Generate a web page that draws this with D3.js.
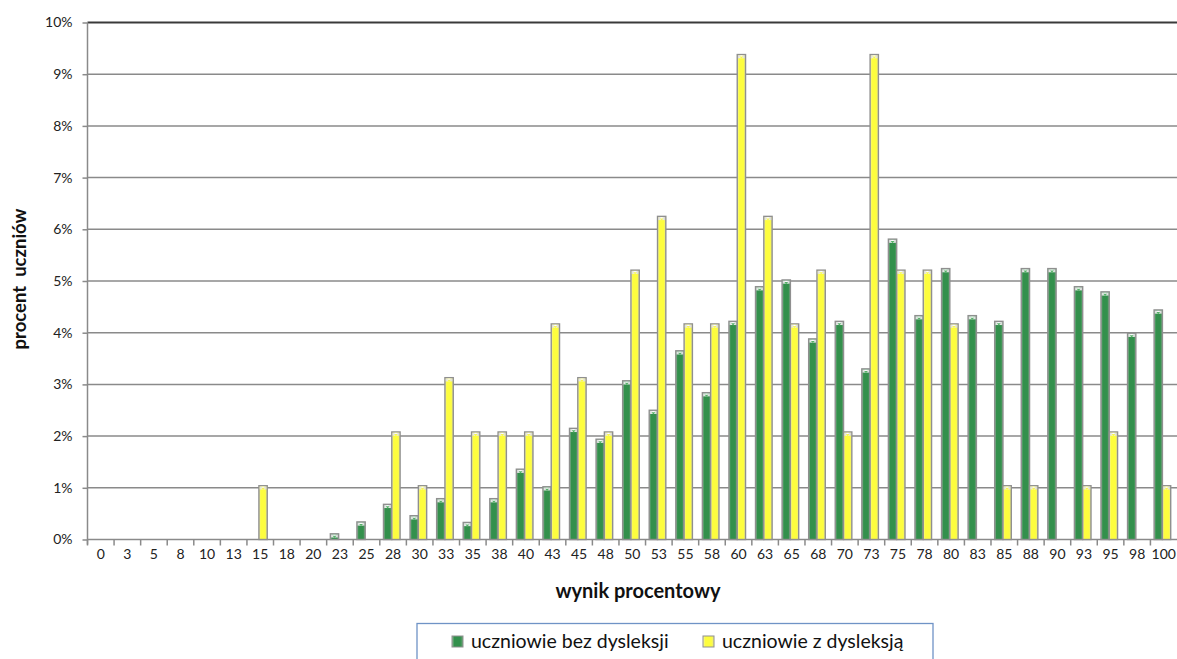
<!DOCTYPE html>
<html>
<head>
<meta charset="utf-8">
<script src="https://cdn.jsdelivr.net/npm/d3@7"></script>
<style>
  html, body { margin: 0; padding: 0; background: #fff; }
  svg { display: block; font-family: Lato, "Noto Sans", sans-serif; }
</style>
</head>
<body>
<svg id="chart" width="1177" height="659"></svg>
<script>
const categories = ["0","3","5","8","10","13","15","18","20","23","25","28","30","33","35","38","40","43","45","48","50","53","55","58","60","63","65","68","70","73","75","78","80","83","85","88","90","93","95","98","100"];
const bezDysleksji = [0,0,0,0,0,0,0,0,0,0.11,0.34,0.68,0.46,0.79,0.33,0.79,1.36,1.02,2.15,1.94,3.07,2.5,3.65,2.84,4.22,4.89,5.02,3.88,4.22,3.3,5.81,4.33,5.24,4.33,4.22,5.24,5.24,4.89,4.79,3.99,4.44];
const zDysleksja = [0,0,0,0,0,0,1.04,0,0,0,0,2.08,1.04,3.13,2.08,2.08,2.08,4.17,3.13,2.08,5.21,6.25,4.17,4.17,9.38,6.25,4.17,5.21,2.08,9.38,5.21,5.21,4.17,0,1.04,1.04,0,1.04,2.08,0,1.04];
const yTicks = [0,1,2,3,4,5,6,7,8,9,10];
const seriesNames = ["uczniowie bez dysleksji", "uczniowie z dysleksją"];

const svg = d3.select("#chart");
const pLeft = 87.5, pRight = 1177, pTop = 22.5, pBottom = 539.5;

const x = d3.scaleBand().domain(categories).range([pLeft, pRight]).paddingInner(0).paddingOuter(0);
const y = d3.scaleLinear().domain([0, 10]).range([pBottom, pTop]);

const defs = svg.append("defs");
function grad(id, stops) {
  const g = defs.append("linearGradient").attr("id", id).attr("x1", "0%").attr("x2", "100%").attr("y1", "0%").attr("y2", "0%");
  stops.forEach(s => g.append("stop").attr("offset", s[0]).attr("stop-color", s[1]));
}
grad("gGreen", [["0%", "#8fb898"], ["22%", "#33904c"], ["75%", "#33904c"], ["100%", "#6aa377"]]);
grad("gYellow", [["0%", "#f2f2b8"], ["22%", "#fdfd3e"], ["75%", "#fdfd3e"], ["100%", "#e9e98f"]]);
grad("gCap", [["0%", "#d8d8d8"], ["50%", "#ffffff"], ["100%", "#d0d0d0"]]);

// gridlines
svg.append("g").selectAll("line").data(yTicks.slice(1)).join("line")
  .attr("x1", pLeft).attr("x2", pRight)
  .attr("y1", d => y(d)).attr("y2", d => y(d))
  .attr("stroke", d => d === 10 ? "#3a3a3a" : "#8a8a8a")
  .attr("stroke-width", d => d === 10 ? 2 : 1.5);

// y axis
const yAxis = d3.axisLeft(y).tickValues(yTicks).tickFormat(d => d + "%").tickSize(5).tickPadding(10);
const gy = svg.append("g").attr("transform", `translate(${pLeft},0)`).call(yAxis);
gy.select(".domain").attr("stroke", "#8a8a8a").attr("stroke-width", 1.5).attr("d", `M0,${pBottom + 5}V${pTop}`);
gy.selectAll(".tick line").attr("stroke", "#8a8a8a").attr("stroke-width", 1.5);
gy.selectAll(".tick text").attr("font-size", 14).attr("fill", "#222").attr("font-family", "Lato, sans-serif");

// x axis
const xAxis = d3.axisBottom(x).tickSize(0).tickPadding(10);
const gx = svg.append("g").attr("transform", `translate(0,${pBottom})`).call(xAxis);
gx.select(".domain").attr("stroke", "#8a8a8a").attr("stroke-width", 1.5).attr("d", `M${pLeft},0H${pRight}`);
gx.selectAll(".tick text").attr("font-size", 14).attr("fill", "#222").attr("font-family", "Lato, sans-serif");
// tick marks at category boundaries
svg.append("g").selectAll("line").data(categories).join("line")
  .attr("x1", d => x(d)).attr("x2", d => x(d))
  .attr("y1", pBottom).attr("y2", pBottom + 6)
  .attr("stroke", "#8a8a8a").attr("stroke-width", 1.5);

// bars
const bw = 8.3;
const data = categories.map((c, i) => ({c, a: bezDysleksji[i], b: zDysleksja[i]}));
function drawSeries(key, offset, fillId, capColor) {
  const g = svg.append("g");
  const items = data.filter(d => d[key] > 0);
  g.selectAll("rect.bar").data(items).join("rect").attr("class", "bar")
    .attr("x", d => x(d.c) + x.bandwidth() / 2 + offset)
    .attr("y", d => y(d[key]))
    .attr("width", bw)
    .attr("height", d => pBottom - y(d[key]))
    .attr("fill", `url(#${fillId})`)
    .attr("stroke", "#8f8f8f").attr("stroke-width", 1.4);
  g.selectAll("rect.cap").data(items).join("rect").attr("class", "cap")
    .attr("x", d => x(d.c) + x.bandwidth() / 2 + offset + 0.7)
    .attr("y", d => y(d[key]) + 0.7)
    .attr("width", bw - 1.4)
    .attr("height", d => Math.min(3, pBottom - y(d[key]) - 0.7))
    .attr("fill", "url(#gCap)");
  g.selectAll("path.tri").data(items.filter(d => pBottom - y(d[key]) > 4)).join("path").attr("class", "tri")
    .attr("d", d => {
      const x0 = x(d.c) + x.bandwidth() / 2 + offset;
      const yt = y(d[key]);
      return `M${x0 + 2.2},${yt + 2}L${x0 + bw - 2.2},${yt + 2}L${x0 + bw / 2},${yt + 4.2}Z`;
    })
    .attr("fill", capColor);
}
drawSeries("a", -bw - 1.3, "gGreen", "#55b068");
drawSeries("b", -1.3, "gYellow", "#f6f650");

// axis titles
svg.append("text").attr("x", 638).attr("y", 598).attr("text-anchor", "middle")
  .attr("font-size", 20).attr("font-weight", "bold").attr("fill", "#111").text("wynik procentowy");
svg.append("text").attr("transform", "translate(26,279) rotate(-90)").attr("text-anchor", "middle")
  .attr("font-size", 18.5).attr("font-weight", "bold").attr("fill", "#111")
  .style("white-space", "pre").text("procent  uczniów");

// legend
svg.append("rect").attr("x", 417).attr("y", 623.5).attr("width", 516).attr("height", 45)
  .attr("fill", "#fff").attr("stroke", "#6f93c6").attr("stroke-width", 1.3);
const legendX = [452, 703];
const legendFill = ["gGreen", "gYellow"];
seriesNames.forEach((name, i) => {
  svg.append("rect").attr("x", legendX[i]).attr("y", 636).attr("width", 11).attr("height", 11)
    .attr("fill", `url(#${legendFill[i]})`).attr("stroke", "#8f8f8f").attr("stroke-width", 1);
  svg.append("text").attr("x", legendX[i] + 19).attr("y", 648)
    .attr("font-size", 19.5).attr("fill", "#111").text(name);
});
</script>
</body>
</html>
